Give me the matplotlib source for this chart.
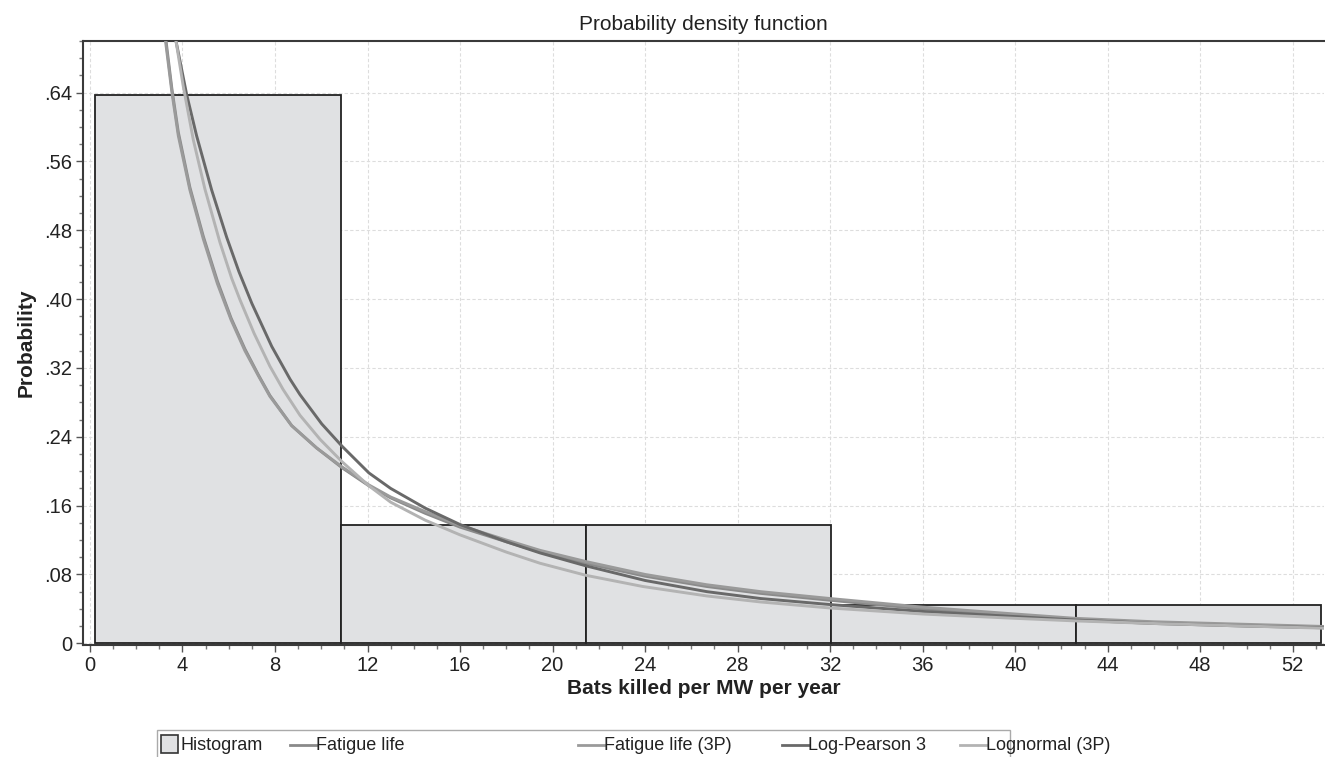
import matplotlib
matplotlib.use("Agg")
import matplotlib.pyplot as plt
from matplotlib.ticker import MultipleLocator, FuncFormatter
from matplotlib.patches import Rectangle
from matplotlib.lines import Line2D

plt.rcParams['font.family'] = ['Liberation Sans', 'DejaVu Sans']

# Histogram data
bin_edges = [0.24, 10.84, 21.44, 32.04, 42.64, 53.24]
bin_heights = [0.637, 0.137, 0.137, 0.045, 0.045]

# Fitted PDF curves
fl_x = [3.0, 3.29, 3.54, 3.82, 4.32, 4.9, 5.51, 6.1, 6.7, 7.28, 7.78, 8.72, 9.8, 10.9,
        12.06, 13.0, 14.5, 16.0, 18.0, 19.46, 21.44, 24.0, 26.67, 29.0, 32.0, 36.0,
        40.0, 42.6, 46.0, 50.0, 53.4]
fl_y = [0.775, 0.700, 0.645, 0.594, 0.530, 0.473, 0.421, 0.378, 0.342, 0.312, 0.288,
        0.253, 0.227, 0.204, 0.183, 0.169, 0.151, 0.135, 0.118, 0.106, 0.093, 0.078,
        0.066, 0.058, 0.050, 0.040, 0.032, 0.028, 0.024, 0.021, 0.0185]

fl3_x = [3.0, 3.29, 3.54, 3.82, 4.32, 4.9, 5.51, 6.1, 6.7, 7.28, 7.78, 8.72, 9.8, 10.9,
         12.06, 13.0, 14.5, 16.0, 18.0, 19.46, 21.44, 24.0, 26.67, 29.0, 32.0, 36.0,
         40.0, 42.6, 46.0, 50.0, 53.4]
fl3_y = [0.770, 0.695, 0.641, 0.590, 0.527, 0.470, 0.418, 0.376, 0.340, 0.311, 0.287,
         0.253, 0.227, 0.205, 0.184, 0.170, 0.153, 0.137, 0.120, 0.108, 0.095, 0.080,
         0.068, 0.060, 0.052, 0.042, 0.034, 0.029, 0.025, 0.022, 0.0195]

lp3_x = [3.4, 3.72, 4.18, 4.61, 5.26, 5.91, 6.44, 7.0, 7.86, 8.65, 9.08, 10.02, 10.9,
         12.06, 13.0, 14.5, 16.0, 18.0, 19.46, 21.44, 24.0, 26.67, 29.0, 32.0, 36.0,
         40.0, 42.6, 46.0, 50.0, 53.4]
lp3_y = [0.755, 0.700, 0.638, 0.590, 0.527, 0.472, 0.432, 0.395, 0.345, 0.307, 0.289,
         0.255, 0.229, 0.198, 0.180, 0.157, 0.138, 0.118, 0.105, 0.090, 0.073, 0.060,
         0.052, 0.045, 0.037, 0.031, 0.027, 0.023, 0.020, 0.018]

ln3_x = [3.4, 3.72, 4.03, 4.47, 4.97, 5.62, 6.13, 6.49, 7.1, 7.78, 8.35, 9.08, 9.95,
         10.9, 12.06, 13.0, 14.5, 16.0, 18.0, 19.46, 21.44, 23.9, 26.67, 29.0, 32.0,
         36.0, 40.0, 42.6, 46.0, 50.0, 53.4]
ln3_y = [0.765, 0.700, 0.648, 0.585, 0.528, 0.466, 0.424, 0.399, 0.360, 0.322, 0.295,
         0.265, 0.237, 0.211, 0.183, 0.164, 0.143, 0.126, 0.106, 0.093, 0.079, 0.066,
         0.055, 0.048, 0.041, 0.034, 0.029, 0.026, 0.023, 0.020, 0.0175]

series_names = ["Fatigue life", "Fatigue life (3P)", "Log-Pearson 3", "Lognormal (3P)"]
series_colors = ["#8a8a8a", "#9a9a9a", "#696969", "#b3b3b3"]

W, H = 1325, 757
fig = plt.figure(figsize=(W / 100, H / 100), dpi=100)
ax = fig.add_axes([83 / W, 1 - 645 / H, (1324 - 83) / W, (645 - 41) / H])

ax.set_xlim(-0.3, 53.35)
ax.set_ylim(-0.002, 0.7)

widths = [bin_edges[i + 1] - bin_edges[i] for i in range(len(bin_heights))]
ax.bar(bin_edges[:-1], bin_heights, width=widths, align='edge',
       facecolor='#e0e1e3', edgecolor='#222222', linewidth=1.3, zorder=2)

curves = [(fl_x, fl_y), (fl3_x, fl3_y), (lp3_x, lp3_y), (ln3_x, ln3_y)]
order = [3, 2, 0, 1]
for i in order:
    cx, cy = curves[i]
    ax.plot(cx, cy, color=series_colors[i], lw=2.1, zorder=3 + i,
            solid_joinstyle='round', solid_capstyle='butt')

ax.xaxis.set_major_locator(MultipleLocator(4))
ax.xaxis.set_minor_locator(MultipleLocator(1))
ax.yaxis.set_major_locator(MultipleLocator(0.08))
ax.yaxis.set_minor_locator(MultipleLocator(0.02))

def yfmt(v, pos):
    if abs(v) < 1e-9:
        return "0"
    return ("%.2f" % v).lstrip("0")

ax.yaxis.set_major_formatter(FuncFormatter(yfmt))
ax.tick_params(axis='both', which='major', length=5, width=1, color='#555555',
               labelsize=14.5, labelcolor='#222222', direction='out')
ax.tick_params(axis='both', which='minor', length=3, width=1, color='#777777', direction='out')
ax.tick_params(axis='x', pad=3)
ax.tick_params(axis='y', pad=3)

ax.grid(True, which='major', color='#dddddd', linestyle=(0, (3, 2)), linewidth=0.8, zorder=0)
ax.set_axisbelow(True)

for s in ['left', 'bottom', 'top']:
    ax.spines[s].set_color('#3a3a3a')
    ax.spines[s].set_linewidth(1.5)
ax.spines['right'].set_visible(False)

ax.set_title("Probability density function", fontsize=15, color='#222222', pad=8)
ax.set_xlabel("Bats killed per MW per year", fontsize=15, fontweight='bold',
              color='#222222', labelpad=3)
ax.set_ylabel("Probability", fontsize=15, fontweight='bold', color='#222222', labelpad=6)

# Legend (drawn manually to match spacing)
def fx(px):
    return px / W

def fy(py):
    return 1 - py / H

fig.patches.append(Rectangle((fx(157), fy(770)), fx(1010) - fx(157), fy(730) - fy(770),
                             transform=fig.transFigure, facecolor='white',
                             edgecolor='#aaaaaa', linewidth=1.0))
ty = fy(745)
fig.patches.append(Rectangle((fx(161), fy(753)), fx(17), fy(735) - fy(753),
                             transform=fig.transFigure, facecolor='#e0e1e3',
                             edgecolor='#333333', linewidth=1.2))
fig.text(fx(181), ty, "Histogram", fontsize=13, color='#222222', va='center', ha='left')
line_starts = [290, 578, 782, 960]
for name, col, x0 in zip(series_names, series_colors, line_starts):
    fig.lines.append(Line2D([fx(x0), fx(x0 + 26)], [ty, ty], transform=fig.transFigure,
                            color=col, lw=2.0))
    fig.text(fx(x0 + 26), ty, name, fontsize=13, color='#222222', va='center', ha='left')

fig.savefig("out.png", dpi=100)
